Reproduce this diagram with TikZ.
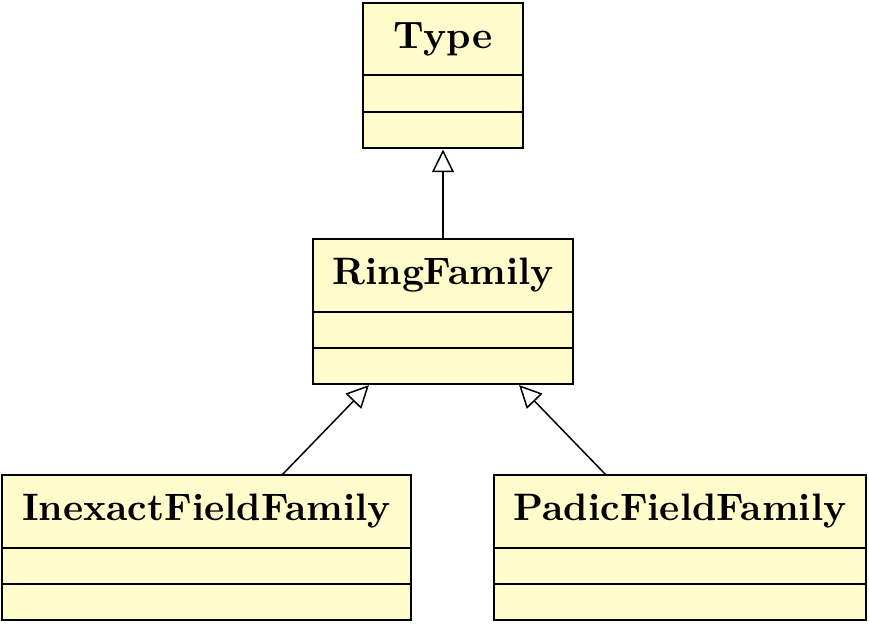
\documentclass[tikz,border=0pt]{standalone}
\usetikzlibrary{arrows.meta,calc}
\definecolor{classfill}{RGB}{255,252,204}
\def\u{0.2667pt}
\tikzset{
  compbox/.style={draw=black, fill=classfill, line width=0.4pt, rectangle, inner sep=0pt, outer sep=0pt, anchor=north, font=\fontsize{10.2}{12}\selectfont\bfseries},
  inherit/.style={-{Triangle[open,length=6pt,width=5.8pt]}, line width=0.4pt, shorten >=0.4pt}
}
\begin{document}
\begin{tikzpicture}[x=0.2667pt,y=-0.2667pt]
\useasboundingbox (0,0) rectangle (869,625);
% Type
\node[compbox, minimum width=160*\u, minimum height=72*\u] (type1) at (443,3) {Type};
\node[compbox, minimum width=160*\u, minimum height=37*\u] (type2) at (type1.south) {};
\node[compbox, minimum width=160*\u, minimum height=36*\u] (type3) at (type2.south) {};
% RingFamily
\node[compbox, minimum width=260*\u, minimum height=73*\u] (ring1) at (443,239) {RingFamily};
\node[compbox, minimum width=260*\u, minimum height=36*\u] (ring2) at (ring1.south) {};
\node[compbox, minimum width=260*\u, minimum height=36*\u] (ring3) at (ring2.south) {};
% InexactFieldFamily
\node[compbox, minimum width=409*\u, minimum height=73*\u] (inex1) at (206.5,475) {InexactFieldFamily};
\node[compbox, minimum width=409*\u, minimum height=36*\u] (inex2) at (inex1.south) {};
\node[compbox, minimum width=409*\u, minimum height=36*\u] (inex3) at (inex2.south) {};
% PadicFieldFamily
\node[compbox, minimum width=372*\u, minimum height=73*\u] (padic1) at (680,475) {PadicFieldFamily};
\node[compbox, minimum width=372*\u, minimum height=36*\u] (padic2) at (padic1.south) {};
\node[compbox, minimum width=372*\u, minimum height=36*\u] (padic3) at (padic2.south) {};
% inheritance
\draw[inherit] (ring1.north) -- (type3.south);
\draw[inherit] ($(inex1.north west)!0.6846!(inex1.north east)$) -- ($(ring3.south west)!0.2192!(ring3.south east)$);
\draw[inherit] ($(padic1.north west)!0.3011!(padic1.north east)$) -- ($(ring3.south west)!0.7885!(ring3.south east)$);
\end{tikzpicture}
\end{document}
